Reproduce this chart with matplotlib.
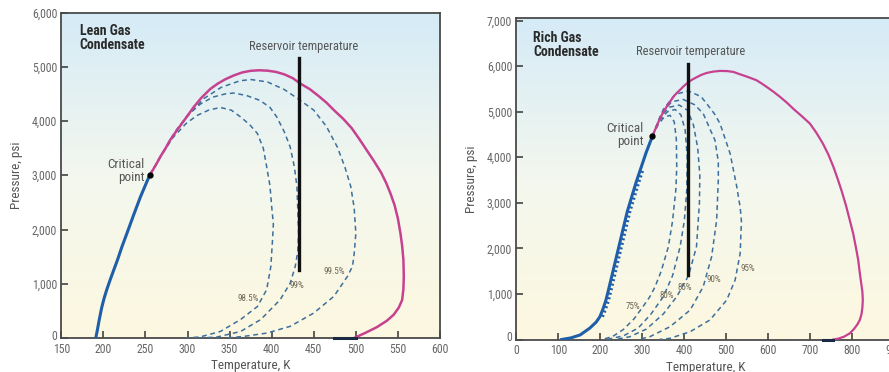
import matplotlib
matplotlib.use("Agg")
import matplotlib.pyplot as plt
import matplotlib.transforms as mtransforms
import numpy as np
from matplotlib.colors import LinearSegmentedColormap
from matplotlib.ticker import FuncFormatter

plt.rcParams["font.family"] = ["Roboto Condensed", "DejaVu Sans"]
plt.rcParams["font.stretch"] = "condensed"

# ---- lean gas condensate ----
lean_bubble_T = [191, 193, 195, 198, 201, 204, 208, 212, 217, 222, 228, 236, 244, 250, 255]
lean_bubble_P = [0, 160, 330, 560, 740, 890, 1070, 1240, 1450, 1680, 1930, 2270, 2600, 2820, 3000]
lean_dew_T = [255, 262, 268, 274, 279, 287, 295, 307, 316, 327, 336, 345, 355, 365, 375, 385,
              395, 405, 415, 425, 434, 445, 455, 465, 474, 485, 495, 504, 513, 522, 530, 536,
              541, 546, 550, 553, 555, 556.5, 557, 556.5, 555, 551, 545, 537, 525, 512, 498]
lean_dew_P = [3000, 3180, 3350, 3500, 3640, 3820, 3990, 4250, 4420, 4590, 4690, 4770, 4840, 4895,
              4925, 4935, 4928, 4905, 4860, 4790, 4690, 4590, 4470, 4340, 4200, 4040, 3870, 3670,
              3460, 3250, 3050, 2860, 2670, 2450, 2200, 1930, 1700, 1450, 1130, 900, 700, 560, 430,
              320, 200, 100, 0]
lean_q985_T = [255, 268, 283, 298, 311, 325, 339, 352, 363, 374, 383, 390, 394, 398, 400, 402,
               401, 399, 394, 383, 363, 339, 315, 299]
lean_q985_P = [3000, 3350, 3700, 3950, 4100, 4200, 4250, 4200, 4075, 3930, 3770, 3500, 3160, 2800,
               2420, 2100, 1810, 1320, 890, 580, 340, 120, 20, 0]
lean_q99_T = [255, 270, 285, 300, 315, 330, 345, 355, 370, 386, 398, 406, 415, 422, 427, 430,
              432, 431, 428, 422, 410, 387, 363, 335, 315]
lean_q99_P = [3000, 3400, 3800, 4100, 4310, 4440, 4500, 4515, 4470, 4380, 4250, 4075, 3800, 3520,
              3150, 2790, 1930, 1600, 1320, 1010, 705, 340, 120, 18, 0]
lean_q995_T = [255, 272, 290, 305, 320, 340, 362, 375, 395, 415, 435, 450, 465, 478, 487, 494,
               498, 500, 498, 496, 490, 474, 450, 422, 394, 367, 347]
lean_q995_P = [3000, 3450, 3900, 4180, 4420, 4620, 4740, 4765, 4720, 4580, 4370, 4200, 3900, 3520,
               3150, 2790, 2400, 1930, 1550, 1320, 1135, 770, 460, 215, 90, 30, 0]
lean_q_labels = ["98.5%", "99%", "99.5%"]

# ---- rich gas condensate ----
rich_bubble_T = [108, 130, 152, 175, 190, 199, 206, 213, 219, 225, 238, 251, 264, 277, 286, 295,
                 309, 324]
rich_bubble_P = [0, 35, 100, 250, 380, 500, 660, 850, 1070, 1300, 1800, 2300, 2800, 3200, 3470,
                 3717, 4100, 4460]
rich_dew_T = [324, 333, 342, 350, 358, 366, 374, 382, 390, 398, 406, 418, 430, 441, 453, 469,
              485, 501, 517, 533, 552, 572, 584, 596, 612, 628, 644, 660, 680, 699, 715, 730,
              743, 755, 765, 775, 785, 794, 802, 808, 814, 818, 821, 824, 825, 824, 822, 818,
              812, 804, 794, 780, 765, 755]
rich_dew_P = [4460, 4660, 4850, 4990, 5110, 5220, 5325, 5410, 5480, 5555, 5620, 5700, 5760, 5810,
              5850, 5880, 5895, 5892, 5873, 5820, 5760, 5690, 5620, 5545, 5440, 5325, 5200, 5060,
              4900, 4740, 4530, 4300, 4060, 3790, 3530, 3250, 2940, 2620, 2330, 2050, 1750, 1450,
              1250, 1050, 866, 700, 560, 430, 330, 230, 135, 60, 15, 0]
rich_q75_T = [324, 338, 352, 366, 376, 381, 382, 380, 372, 362, 345, 330, 318, 300, 280, 255, 230, 205]
rich_q75_P = [4460, 4720, 4880, 4920, 4780, 4400, 3800, 3300, 2600, 2035, 1500, 1150, 940, 700,
              450, 220, 70, 0]
rich_q80_T = [324, 340, 360, 378, 392, 402, 407, 406, 400, 390, 372, 350, 320, 290, 255, 215]
rich_q80_P = [4460, 4800, 5000, 5050, 4930, 4600, 4000, 3300, 2600, 2035, 1400, 940, 550, 250, 80, 0]
rich_q85_T = [324, 342, 365, 388, 408, 422, 432, 437, 436, 429, 410, 382, 350, 310, 270, 235]
rich_q85_P = [4460, 4880, 5100, 5145, 5030, 4700, 4200, 3600, 3000, 2035, 1400, 940, 560, 230, 60, 0]
rich_q90_T = [324, 345, 370, 398, 425, 445, 462, 473, 481, 481, 477, 465, 445, 414, 366, 318, 290]
rich_q90_P = [4460, 4950, 5220, 5268, 5150, 4960, 4600, 4375, 3900, 3500, 2620, 1816, 1158, 647,
              281, 61, 0]
rich_q95_T = [324, 350, 378, 410, 440, 453, 472, 485, 509, 525, 533, 536, 533, 521, 501, 461,
              414, 366, 340]
rich_q95_P = [4460, 5050, 5380, 5456, 5330, 5180, 4950, 4741, 4083, 3351, 2900, 2600, 1890, 1305,
              866, 428, 171, 26, 0]
rich_q_labels = ["75%", "80%", "85%", "90%", "95%"]

W, H = 889, 372
fig = plt.figure(figsize=(W / 100, H / 100), dpi=100)
fig.patch.set_facecolor("white")

bg = LinearSegmentedColormap.from_list("bg", ["#fdf8e0", "#f3f7ee", "#d5ebf7"])

BLUE = "#1f5ea8"
PINK = "#c6418f"
DASH = "#3d6f9c"
GREY = "#555555"
PCT = "#6e6655"


def style_axes(ax, xlim, ylim, xticks, yticks):
    ax.set_xlim(*xlim)
    ax.set_ylim(*ylim)
    grad = np.linspace(0, 1, 256).reshape(-1, 1)
    ax.imshow(grad, cmap=bg, origin="lower", aspect="auto",
              extent=(xlim[0], xlim[1], ylim[0], ylim[1]), zorder=0)
    ax.set_xticks(xticks)
    ax.set_yticks(yticks)
    ax.yaxis.set_major_formatter(FuncFormatter(lambda v, p: f"{int(v):,}"))
    ax.tick_params(direction="in", length=5, width=1.1, color="#333333",
                   labelsize=8.5, labelcolor="#666666")
    ax.tick_params(axis="x", pad=3.5)
    ax.tick_params(axis="y", pad=3)
    for s in ax.spines.values():
        s.set_color("#4a4a4a")
        s.set_linewidth(1.3)
    ax.set_xlabel("Temperature, K", fontsize=9.5, color=GREY, labelpad=2.5)
    ax.set_ylabel("Pressure, psi", fontsize=9.5, color=GREY, labelpad=6)
    # lift the "0" pressure label a little so it clears the first temperature label
    zero = ax.yaxis.get_major_ticks()[0].label1
    zero.set_transform(zero.get_transform() +
                       mtransforms.ScaledTranslation(0, 2.5 / 72, fig.dpi_scale_trans))


def dashed(ax, T, P):
    ax.plot(T, P, color=DASH, lw=1.1, dashes=(3.2, 2.4), zorder=3)


# left panel
ax1 = fig.add_axes([61.3 / W, 1 - 338 / H, (440 - 61.3) / W, (338 - 12.5) / H])
style_axes(ax1, (150, 600), (0, 6000), range(150, 601, 50), range(0, 6001, 1000))
for T, P in [(lean_q985_T, lean_q985_P), (lean_q99_T, lean_q99_P), (lean_q995_T, lean_q995_P)]:
    dashed(ax1, T, P)
ax1.plot(lean_dew_T, lean_dew_P, color=PINK, lw=1.8, zorder=4)
ax1.plot([474, 500], [0, 0], color="#1b2a44", lw=2.2, zorder=4, clip_on=False)
ax1.plot(lean_bubble_T, lean_bubble_P, color=BLUE, lw=2.2, zorder=4)
ax1.plot([lean_bubble_T[-1]], [lean_bubble_P[-1]], "o", color="black", ms=3.5, zorder=6)
ax1.plot([432, 432], [1250, 5170], color="#111111", lw=2.4, zorder=5)
ax1.text(438, 5380, "Reservoir temperature", fontsize=9, color=GREY, ha="center", va="center")
ax1.text(172, 5780, "Lean Gas\nCondensate", fontsize=10, fontweight="bold", color="#2a2a2a",
         ha="left", va="top", linespacing=1.0)
ax1.text(249, 3080, "Critical\npoint", fontsize=9.5, color=GREY, ha="right", va="center",
         linespacing=1.05)
for lbl, (x, y) in zip(lean_q_labels, [(372, 720), (430, 970), (474, 1230)]):
    ax1.text(x, y, lbl, fontsize=6.5, color=PCT, ha="center", va="center", zorder=6)

# right panel
ax2 = fig.add_axes([516.3 / W, 1 - 339.5 / H, 378 / W, (339.5 - 18.3) / H])
style_axes(ax2, (0, 900), (0, 7050), range(0, 901, 100), range(0, 7001, 1000))
rich_quality = [(rich_q75_T, rich_q75_P), (rich_q80_T, rich_q80_P), (rich_q85_T, rich_q85_P),
                (rich_q90_T, rich_q90_P), (rich_q95_T, rich_q95_P)]
for T, P in rich_quality:
    dashed(ax2, T, P)
ax2.plot(rich_dew_T, rich_dew_P, color=PINK, lw=1.6, zorder=4)
ax2.plot([731, 755], [0, 0], color="#1b2a44", lw=2.2, zorder=4, clip_on=False)
ax2.plot(rich_bubble_T, rich_bubble_P, color=BLUE, lw=2.2, zorder=4)
# serrated edge along the bubble-point curve
comb = mtransforms.offset_copy(ax2.transData, fig=fig, x=2.5, y=0, units="dots")
ax2.plot(rich_bubble_T[5:16], rich_bubble_P[5:16], color=BLUE, lw=2.4,
         dashes=(0.6, 0.8), transform=comb, zorder=4)
ax2.plot([rich_bubble_T[-1]], [rich_bubble_P[-1]], "o", color="black", ms=3.5, zorder=6)
ax2.plot([408, 408], [1415, 6056], color="#111111", lw=2.4, zorder=5)
ax2.text(414, 6330, "Reservoir temperature", fontsize=9, color=GREY, ha="center", va="center")
ax2.text(40, 6780, "Rich Gas\nCondensate", fontsize=10, fontweight="bold", color="#2a2a2a",
         ha="left", va="top", linespacing=1.0)
ax2.text(304, 4485, "Critical\npoint", fontsize=9.5, color=GREY, ha="right", va="center",
         linespacing=1.05)
for lbl, (x, y) in zip(rich_q_labels, [(279, 735), (358, 976), (400, 1136), (471, 1327), (552, 1561)]):
    ax2.text(x, y, lbl, fontsize=6.5, color=PCT, ha="center", va="center", zorder=6)

fig.savefig("out.png", dpi=100, facecolor="white")
